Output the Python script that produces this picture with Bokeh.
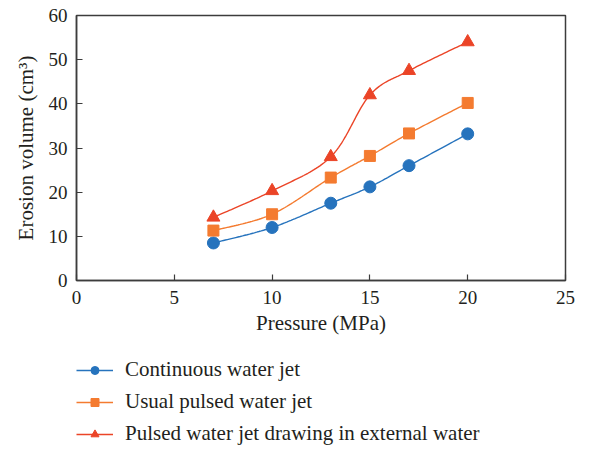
import numpy as np
from bokeh.plotting import figure
from bokeh.layouts import column
from bokeh.models import Range1d, Legend, LegendItem, FixedTicker
from bokeh.embed import file_html
from bokeh.resources import INLINE

# ---- data ----
pressure = [7, 10, 13, 15, 17, 20]
continuous = [8.5, 12.0, 17.5, 21.2, 26.0, 33.2]
usual_pulsed = [11.3, 15.0, 23.3, 28.2, 33.3, 40.2]
pulsed_drawing = [14.3, 20.3, 28.0, 42.0, 47.5, 54.0]
series_names = ["Continuous water jet", "Usual pulsed water jet",
                "Pulsed water jet drawing in external water"]
x_ticks = [0, 5, 10, 15, 20, 25]
y_ticks = [0, 10, 20, 30, 40, 50, 60]

FONT = "Liberation Serif"
TXT = "#231f20"
colors = ["#2673BD", "#F47B30", "#EB4427"]
markers = ["circle", "square", "triangle"]
sizes = [12, 11, 13]

W = 590
H_MAIN = 345
H_LEG = 104

p = figure(width=W, height=H_MAIN, output_backend="svg", toolbar_location=None,
           x_range=Range1d(0, 25), y_range=Range1d(0, 60),
           min_border_left=76, min_border_right=25, min_border_top=15,
           min_border_bottom=65)
p.grid.visible = False
p.outline_line_color = "#3c3c3c"
p.outline_line_width = 1.5
p.background_fill_color = "white"
p.border_fill_color = "white"

for ax in (p.xaxis[0], p.yaxis[0]):
    ax.axis_line_color = "#3c3c3c"
    ax.axis_line_width = 1.5
    ax.major_tick_line_color = "#3c3c3c"
    ax.major_tick_line_width = 1.2
    ax.major_tick_in = 6
    ax.major_tick_out = 0
    ax.minor_tick_line_color = None
    ax.major_label_text_font = FONT
    ax.major_label_text_font_size = "19px"
    ax.major_label_text_color = TXT
    ax.axis_label_text_font = FONT
    ax.axis_label_text_font_size = "21px"
    ax.axis_label_text_font_style = "normal"
    ax.axis_label_text_color = TXT

p.xaxis.ticker = FixedTicker(ticks=x_ticks)
p.yaxis.ticker = FixedTicker(ticks=y_ticks)
p.xaxis.axis_label = "Pressure (MPa)"
p.yaxis.axis_label = "Erosion volume (cm³)"
p.xaxis.major_label_standoff = 10
p.xaxis.axis_label_standoff = 4
p.yaxis.major_label_standoff = 9
p.yaxis.axis_label_standoff = 8

# screen scale factors for a smoothing similar to spreadsheet "smoothed line"
sx = 489 / 25.0
sy = 265 / 60.0


def smooth(xs, ys, n=30):
    X = np.array(xs, float) * sx
    Y = np.array(ys, float) * sy
    outx, outy = [X[0]], [Y[0]]
    m = len(X)
    for i in range(m - 1):
        p0 = np.array([X[max(i - 1, 0)], Y[max(i - 1, 0)]])
        p1 = np.array([X[i], Y[i]])
        p2 = np.array([X[i + 1], Y[i + 1]])
        p3 = np.array([X[min(i + 2, m - 1)], Y[min(i + 2, m - 1)]])
        c1 = p1 + (p2 - p0) / 6.0
        c2 = p2 - (p3 - p1) / 6.0
        for t in np.linspace(0, 1, n)[1:]:
            pt = ((1 - t) ** 3) * p1 + 3 * ((1 - t) ** 2) * t * c1 + 3 * (1 - t) * t * t * c2 + t ** 3 * p2
            outx.append(pt[0])
            outy.append(pt[1])
    return np.array(outx) / sx, np.array(outy) / sy


# legend panel as a separate, axis-less figure below the chart
lf = figure(width=W, height=H_LEG, output_backend="svg", toolbar_location=None,
            x_range=Range1d(0, 1), y_range=Range1d(0, 1),
            min_border=0, min_border_left=0, min_border_right=0,
            min_border_top=0, min_border_bottom=0)
lf.axis.visible = False
lf.grid.visible = False
lf.outline_line_color = None
lf.border_fill_color = "white"

items = []
for ys, name, c, mk, sz in zip([continuous, usual_pulsed, pulsed_drawing],
                               series_names, colors, markers, sizes):
    cx, cy = smooth(pressure, ys)
    p.line(cx, cy, line_color=c, line_width=1.4)
    p.scatter(pressure, ys, marker=mk, size=sz, fill_color=c, line_color=c)
    # key-only renderers (no visible data) for the legend panel
    lr = lf.line(x=[np.nan], y=[np.nan], line_color=c, line_width=1.4)
    sr = lf.scatter(x=[np.nan], y=[np.nan], marker=mk, size=sz,
                    fill_color=c, line_color=c)
    items.append(LegendItem(label=name, renderers=[lr, sr]))

legend = Legend(items=items, location=(0, 3), orientation="vertical",
                padding=0, margin=0, spacing=7, label_height=20,
                glyph_height=20, glyph_width=37, label_standoff=12,
                label_text_font=FONT, label_text_font_size="21px",
                label_text_color=TXT,
                border_line_alpha=0, background_fill_alpha=0)
lf.add_layout(legend, "center")

layout = column(p, lf, spacing=0)
open("out.html", "w").write(file_html(layout, INLINE))
